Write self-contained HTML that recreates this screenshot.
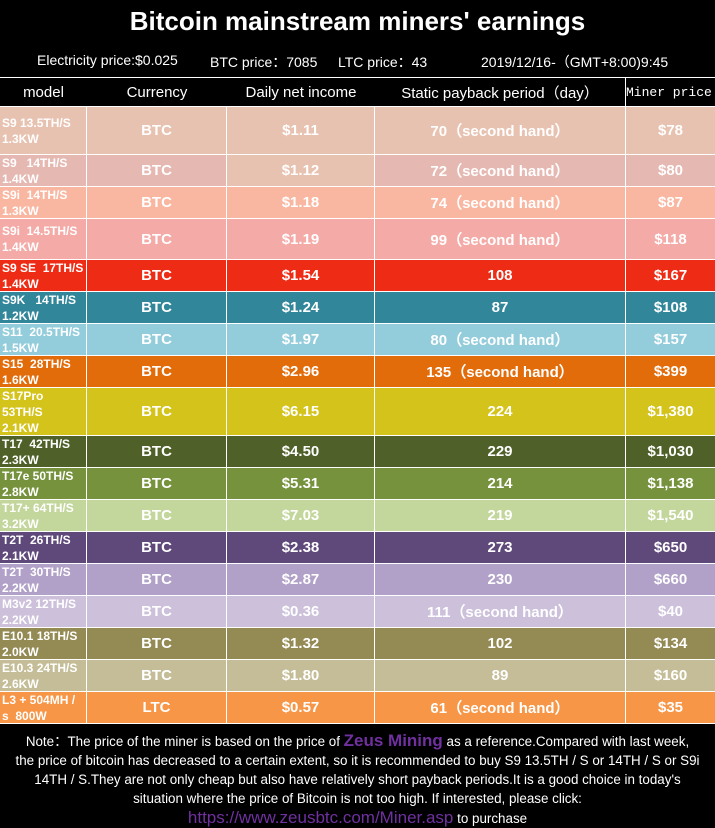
<!DOCTYPE html><html><head><meta charset="utf-8"><style>
*{margin:0;padding:0;box-sizing:border-box}
body{width:715px;height:827px;background:#000;font-family:"Liberation Sans","DejaVu Sans",sans-serif;color:#fff;position:relative;overflow:hidden}
.title{position:absolute;top:6px;left:0;width:715px;text-align:center;font-size:26px;font-weight:bold}
.sub{position:absolute;top:52px;font-size:14px}
.row{position:absolute;left:0;width:715px;display:flex;border-top:1.5px solid #fff}
.row div{height:100%;display:flex;align-items:center;justify-content:center;font-weight:bold;font-size:15px;border-right:1.5px solid #fff;overflow:hidden}
.row div:last-child{border-right:none}
.row div.m{justify-content:flex-start;text-align:left;font-size:12px;line-height:16px;padding-left:2px}
.h div{font-weight:normal!important}
.note{position:absolute;top:731px;left:0;width:715px;text-align:center;font-size:13.4px;line-height:19px;white-space:nowrap}
.z{color:#7030a0;font-weight:bold;font-size:17px}
.u{color:#7030a0;font-size:17px}
</style></head><body>
<div class="title">Bitcoin mainstream miners' earnings</div>
<div class="sub" style="left:37px">Electricity price:$0.025</div>
<div class="sub" style="left:210px">BTC price：7085</div>
<div class="sub" style="left:338px">LTC price：43</div>
<div class="sub" style="left:481px">2019/12/16-（GMT+8:00)9:45</div>
<div id="t"></div>
<div class="note">Note：The price of the miner is based on the price of <span class="z">Zeus Mining</span> as a reference.Compared with last week,<br>the price of bitcoin has decreased to a certain extent, so it is recommended to buy S9 13.5TH / S or 14TH / S or S9i<br>14TH / S.They are not only cheap but also have relatively short payback periods.It is a good choice in today's<br>situation where the price of Bitcoin is not too high. If interested, please click:<br><span class="u">https://www.zeusbtc.com/Miner.asp</span> to purchase</div>
<script>
var W=[87,140,148,251,89];
var Y=[77,106,154,186,218,259,291,323,355,387,435,467,499,531,563,595,627,659,691,723];
var R=[
["#000",["model","Currency","Daily net income","Static payback period（day）","Miner price"]],
["#e8c2b0",["S9 13.5TH/S<br>1.3KW","BTC","$1.11","70（second hand）","$78"]],
["#e5b8b2",["S9 &nbsp;&nbsp;14TH/S<br>1.4KW","BTC","$1.12","72（second hand）","$80"]],
["#f9b6a0",["S9i &nbsp;14TH/S<br>1.3KW","BTC","$1.18","74（second hand）","$87"]],
["#f4aaa6",["S9i &nbsp;14.5TH/S<br>1.4KW","BTC","$1.19","99（second hand）","$118"]],
["#ee2b14",["S9 SE &nbsp;17TH/S<br>1.4KW","BTC","$1.54","108","$167"]],
["#318699",["S9K &nbsp;&nbsp;14TH/S<br>1.2KW","BTC","$1.24","87","$108"]],
["#93ccdb",["S11 &nbsp;20.5TH/S<br>1.5KW","BTC","$1.97","80（second hand）","$157"]],
["#e26b0a",["S15 &nbsp;28TH/S<br>1.6KW","BTC","$2.96","135（second hand）","$399"]],
["#d4c31a",["S17Pro<br>53TH/S<br>2.1KW","BTC","$6.15","224","$1,380"]],
["#4f6128",["T17 &nbsp;42TH/S<br>2.3KW","BTC","$4.50","229","$1,030"]],
["#76923c",["T17e 50TH/S<br>2.8KW","BTC","$5.31","214","$1,138"]],
["#c3d69b",["T17+ 64TH/S<br>3.2KW","BTC","$7.03","219","$1,540"]],
["#5f497a",["T2T &nbsp;26TH/S<br>2.1KW","BTC","$2.38","273","$650"]],
["#b1a0c7",["T2T &nbsp;30TH/S<br>2.2KW","BTC","$2.87","230","$660"]],
["#ccc0da",["M3v2 12TH/S<br>2.2KW","BTC","$0.36","111（second hand）","$40"]],
["#948a54",["E10.1 18TH/S<br>2.0KW","BTC","$1.32","102","$134"]],
["#c4bd97",["E10.3 24TH/S<br>2.6KW","BTC","$1.80","89","$160"]],
["#f79646",["L3 + 504MH /<br>s &nbsp;800W","LTC","$0.57","61（second hand）","$35"]]];
var h="";
R.forEach(function(r,i){
 h+='<div class="row'+(i==0?' h':'')+'" style="top:'+Y[i]+'px;height:'+(Y[i+1]-Y[i]+(i==R.length-1?1:0))+'px;background:'+r[0]+(i==R.length-1?';border-bottom:1.5px solid #fff':'')+'">';
 r[1].forEach(function(c,j){
  var st='width:'+W[j]+'px';
  if(i==0){ if(j<4)st+=';border-right:none'; if(j==3)st+=';border-right:1.5px solid #fff'; if(j==4)st+=';font-family:Liberation Mono,monospace;font-size:13px;justify-content:flex-start'; }
  if(i==2&&j==2)st+=';background:#e8c2b0';
  var isM=(j==0&&i>0);
  h+='<div class="'+(isM?'m':'')+'" style="'+st+'">'+(isM?'<span>'+c+'</span>':c)+'</div>';
 });
 h+='</div>';
});
document.getElementById('t').innerHTML=h;
</script>
</body></html>
